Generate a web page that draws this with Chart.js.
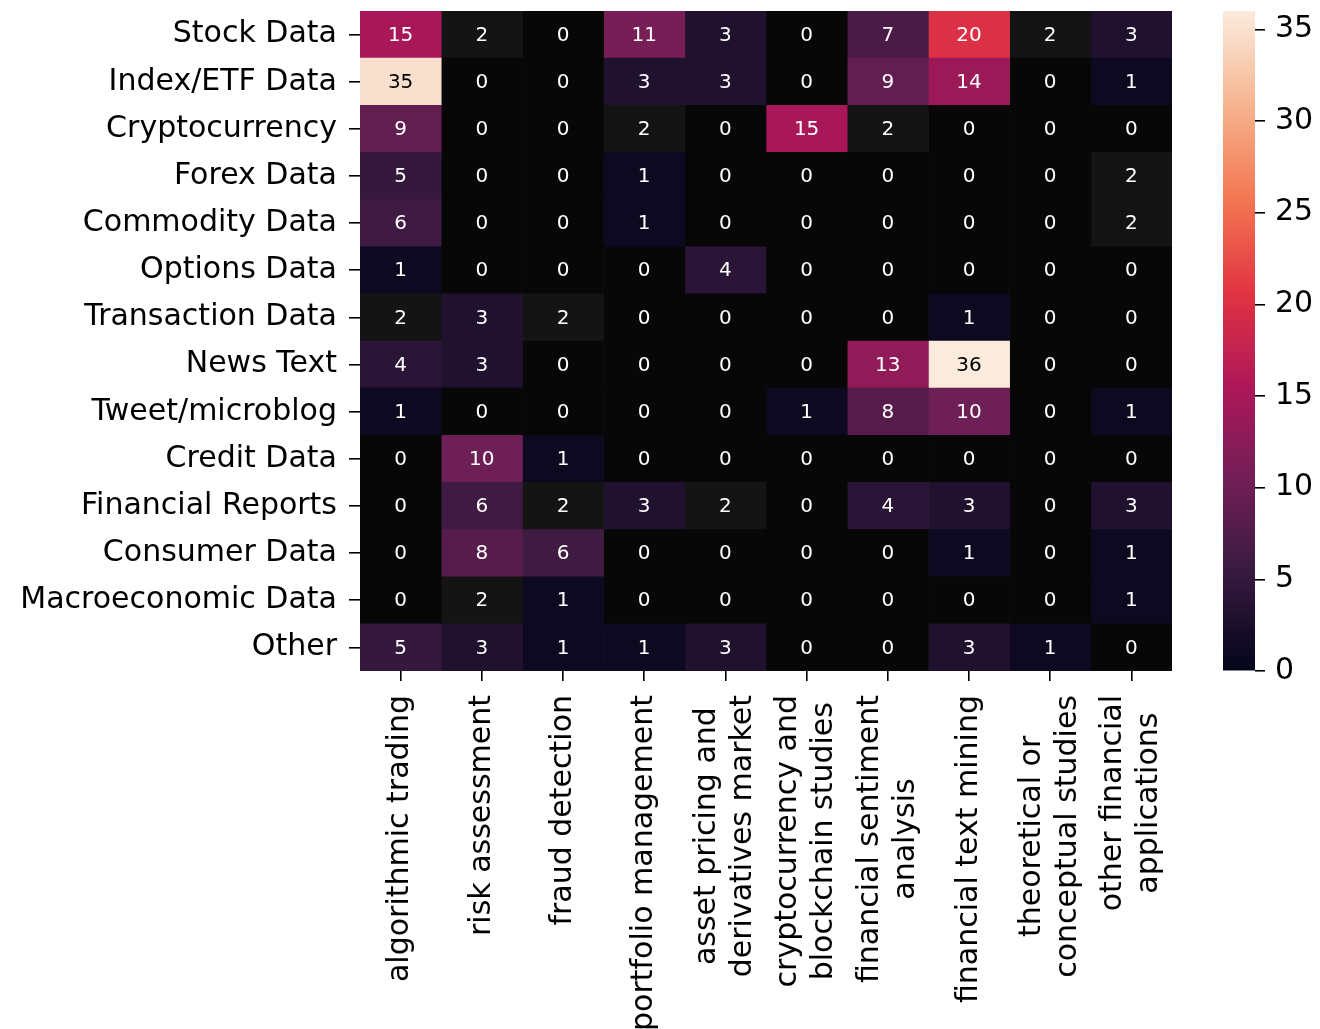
<!DOCTYPE html>
<html>
<head>
<meta charset="utf-8">
<script src="https://cdn.jsdelivr.net/npm/chart.js@4.4.0/dist/chart.umd.min.js"></script>
<style>
  body { margin: 0; background: #fff; }
  #heat { position: absolute; left: 0; top: 0; }
  #cbar { position: absolute; left: 1200px; top: 0; }
</style>
</head>
<body>
<canvas id="heat" width="1200" height="1029"></canvas>
<canvas id="cbar" width="120" height="1029"></canvas>
<script>
const dataTypes = ['Stock Data', 'Index/ETF Data', 'Cryptocurrency', 'Forex Data', 'Commodity Data',
  'Options Data', 'Transaction Data', 'News Text', 'Tweet/microblog', 'Credit Data',
  'Financial Reports', 'Consumer Data', 'Macroeconomic Data', 'Other'];

const useCases = [
  ['algorithmic trading'],
  ['risk assessment'],
  ['fraud detection'],
  ['portfolio management'],
  ['asset pricing and', 'derivatives market'],
  ['cryptocurrency and', 'blockchain studies'],
  ['financial sentiment', 'analysis'],
  ['financial text mining'],
  ['theoretical or', 'conceptual studies'],
  ['other financial', 'applications']
];

// one row of counts per data type, columns in useCases order
const stockData     = [15, 2, 0, 11, 3, 0, 7, 20, 2, 3];
const indexEtfData  = [35, 0, 0, 3, 3, 0, 9, 14, 0, 1];
const cryptoData    = [9, 0, 0, 2, 0, 15, 2, 0, 0, 0];
const forexData     = [5, 0, 0, 1, 0, 0, 0, 0, 0, 2];
const commodityData = [6, 0, 0, 1, 0, 0, 0, 0, 0, 2];
const optionsData   = [1, 0, 0, 0, 4, 0, 0, 0, 0, 0];
const transactData  = [2, 3, 2, 0, 0, 0, 0, 1, 0, 0];
const newsText      = [4, 3, 0, 0, 0, 0, 13, 36, 0, 0];
const tweetData     = [1, 0, 0, 0, 0, 1, 8, 10, 0, 1];
const creditData    = [0, 10, 1, 0, 0, 0, 0, 0, 0, 0];
const finReports    = [0, 6, 2, 3, 2, 0, 4, 3, 0, 3];
const consumerData  = [0, 8, 6, 0, 0, 0, 0, 1, 0, 1];
const macroData     = [0, 2, 1, 0, 0, 0, 0, 0, 0, 1];
const otherData     = [5, 3, 1, 1, 3, 0, 0, 3, 1, 0];

const colorbarTicks = [0, 5, 10, 15, 20, 25, 30, 35];

const counts = [stockData, indexEtfData, cryptoData, forexData, commodityData, optionsData,
  transactData, newsText, tweetData, creditData, finReports, consumerData, macroData, otherData];
const vmax = Math.max(...counts.flat());

// seaborn "rocket" colormap, sampled
const rocketStops = [
  [0, '#03051a'], [1 / 7, '#35193e'], [2 / 7, '#701f57'], [3 / 7, '#ad1759'],
  [4 / 7, '#e13342'], [5 / 7, '#f37651'], [6 / 7, '#f6b48f'], [1, '#faebdd']
];
const hexRgb = h => [1, 3, 5].map(i => parseInt(h.substr(i, 2), 16));

function rocket(t) {
  t = Math.min(1, Math.max(0, t));
  for (let i = 1; i < rocketStops.length; i++) {
    const [t1, h1] = rocketStops[i];
    if (t <= t1) {
      const [t0, h0] = rocketStops[i - 1];
      const a = hexRgb(h0), b = hexRgb(h1), f = (t - t0) / (t1 - t0);
      return a.map((v, k) => Math.round(v + (b[k] - v) * f));
    }
  }
  return hexRgb('#faebdd');
}

// the reference shows the darkest cells as flat greys
const flatCells = { 0: [7, 7, 7], 2: [20, 20, 20] };
const cellRgb = v => flatCells[v] || rocket(v / vmax);
const css = rgb => `rgb(${rgb.join(',')})`;

function textColor(rgb) {
  const lin = rgb.map(c => { c /= 255; return c <= 0.03928 ? c / 12.92 : Math.pow((c + 0.055) / 1.055, 2.4); });
  const lum = 0.2126 * lin[0] + 0.7152 * lin[1] + 0.0722 * lin[2];
  return lum > 0.408 ? '#000' : '#fff';
}

const FONT = 'DejaVu Sans';

// no extra room for half-labels above/below the plot
function fixVertical(width) {
  return s => { s.width = width; s.paddingTop = 0; s.paddingBottom = 0; };
}

// each column is a dataset of floating bars [c, c+1] across all rows
const heatDatasets = useCases.map((name, c) => ({
  label: name.join(' '),
  data: dataTypes.map(() => [c, c + 1]),
  backgroundColor: dataTypes.map((_, r) => css(cellRgb(counts[r][c]))),
  grouped: false,
  barPercentage: 1,
  categoryPercentage: 1,
  borderWidth: 0
}));

const cellText = {
  id: 'cellText',
  afterDatasetsDraw(chart) {
    const { ctx, scales: { x, y } } = chart;
    ctx.save();
    ctx.font = `20px "${FONT}"`;
    ctx.textAlign = 'center';
    ctx.textBaseline = 'middle';
    counts.forEach((row, r) => row.forEach((v, c) => {
      ctx.fillStyle = textColor(cellRgb(v));
      ctx.fillText(String(v), x.getPixelForValue(c + 0.5), y.getPixelForValue(r) + 1);
    }));
    ctx.restore();
  }
};

// rotated, centred multi-line column labels
const columnLabels = {
  id: 'columnLabels',
  afterDraw(chart) {
    const { ctx, scales: { x }, chartArea } = chart;
    ctx.save();
    ctx.font = `30px "${FONT}"`;
    ctx.fillStyle = '#000';
    ctx.textAlign = 'center';
    ctx.textBaseline = 'middle';
    const top = chartArea.bottom + 24;
    useCases.forEach((lines, c) => {
      const px = x.getPixelForValue(c + 0.5);
      const w = Math.max(...lines.map(l => ctx.measureText(l).width));
      lines.forEach((line, j) => {
        ctx.save();
        ctx.translate(px + (j - (lines.length - 1) / 2) * 36, top + w / 2);
        ctx.rotate(-Math.PI / 2);
        ctx.fillText(line, 0, 0);
        ctx.restore();
      });
    });
    ctx.restore();
  }
};

new Chart(document.getElementById('heat'), {
  type: 'bar',
  data: { labels: dataTypes, datasets: heatDatasets },
  options: {
    indexAxis: 'y',
    responsive: false,
    animation: false,
    layout: { padding: { top: 11, right: 28, left: 0, bottom: 0 } },
    plugins: { legend: { display: false }, tooltip: { enabled: false } },
    scales: {
      x: {
        type: 'linear', min: 0, max: useCases.length,
        afterBuildTicks: s => { s.ticks = useCases.map((_, i) => ({ value: i + 0.5 })); },
        afterFit: s => { s.height = 358; s.paddingLeft = 0; s.paddingRight = 0; },
        ticks: { display: false },
        grid: { drawOnChartArea: false, drawTicks: true, tickLength: 10, color: '#000', lineWidth: 1.6 },
        border: { display: false }
      },
      y: {
        afterFit: fixVertical(360),
        ticks: { color: '#000', font: { family: FONT, size: 30 }, padding: 12, autoSkip: false },
        grid: { offset: false, drawOnChartArea: false, tickLength: 11, color: '#000', lineWidth: 1.6 },
        border: { display: false }
      }
    }
  },
  plugins: [cellText, columnLabels]
});

// colour bar
new Chart(document.getElementById('cbar'), {
  type: 'bar',
  data: {
    labels: ['count'],
    datasets: [{
      data: [[0, vmax]],
      backgroundColor(context) {
        const area = context.chart.chartArea;
        if (!area) return null;
        const g = context.chart.ctx.createLinearGradient(0, area.bottom, 0, area.top);
        rocketStops.forEach(([t, h]) => g.addColorStop(t, h));
        return g;
      },
      barPercentage: 1,
      categoryPercentage: 1,
      borderWidth: 0
    }]
  },
  options: {
    responsive: false,
    animation: false,
    layout: { padding: { left: 23, top: 11, bottom: 358, right: 0 } },
    plugins: { legend: { display: false }, tooltip: { enabled: false } },
    scales: {
      x: { display: false },
      y: {
        position: 'right', min: 0, max: vmax,
        afterBuildTicks: s => { s.ticks = colorbarTicks.map(v => ({ value: v })); },
        afterFit: fixVertical(65),
        ticks: { color: '#000', font: { family: FONT, size: 30 }, padding: 10 },
        grid: { drawOnChartArea: false, tickLength: 10, color: '#000', lineWidth: 1.6 },
        border: { display: false }
      }
    }
  }
});
</script>
</body>
</html>
